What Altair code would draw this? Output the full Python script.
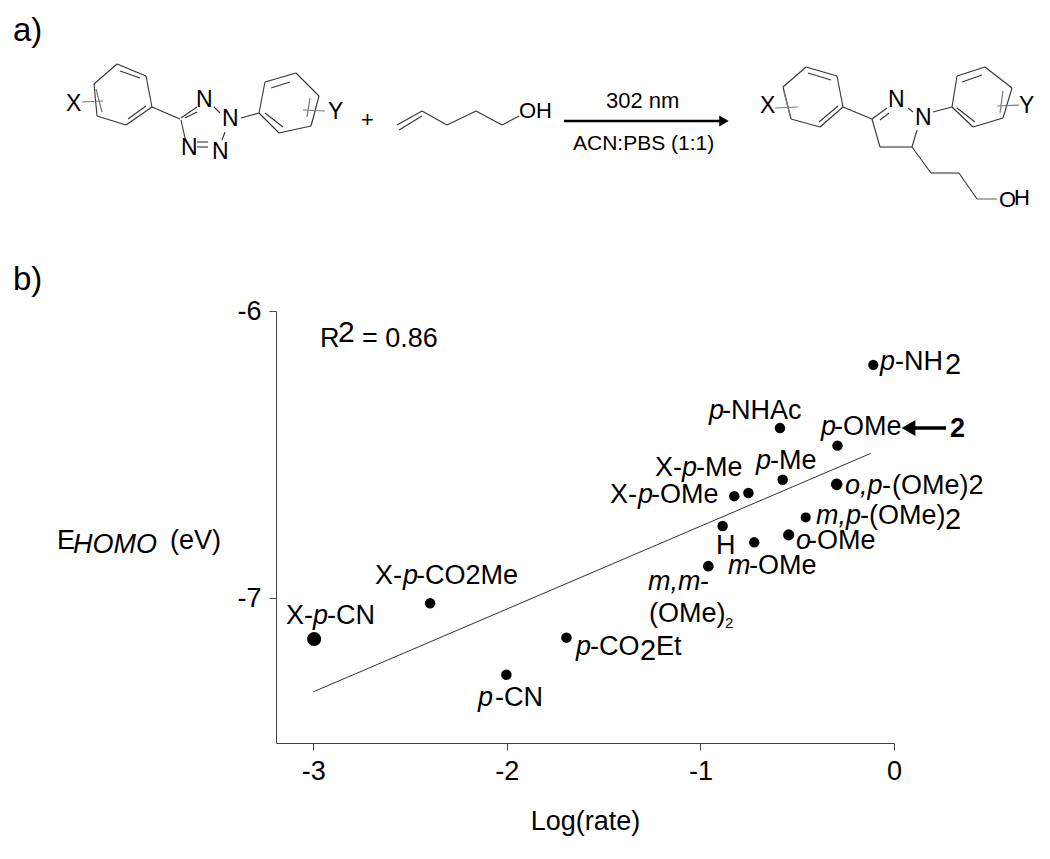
import altair as alt
import pandas as pd

# ---- scatter data ----
log_rate = [-0.107, -0.589, -0.292, -0.575, -0.752, -0.825, -0.296, -0.456, -0.544, -0.885, -0.722, -0.959, -2.396, -2.995, -2.002, -1.692]
e_homo = [-6.188, -6.408, -6.469, -6.588, -6.634, -6.645, -6.604, -6.719, -6.780, -6.749, -6.806, -6.889, -7.018, -7.143, -7.267, -7.138]
dot_size = [105, 110, 110, 110, 110, 110, 135, 100, 125, 110, 110, 115, 110, 195, 110, 110]
trend_x = [-3.0, -0.12]
trend_y = [-7.327, -6.496]

# ---- text pieces: text, left, baseline, font size, style, weight ----
n, i, b = "normal", "italic", "bold"
F = 27
S = 22
labels = [
    ("a)", 13, 41, 33, n, n), ("b)", 13, 290, 33, n, n),
    ("R", 320, 347, F, n, n), ("2", 338, 342, 30, n, n), ("= 0.86", 362, 347, F, n, n),
    ("E", 57, 549, F, n, n), ("HOMO", 73, 553, F, i, n), ("(eV)", 170, 549, F, n, n),
    ("p", 880, 370, F, i, n), ("-NH", 895, 370, F, n, n), ("2", 945, 374, 29, n, n),
    ("p", 709, 419, F, i, n), ("-NHAc", 722, 419, F, n, n),
    ("p", 821, 435, F, i, n), ("-OMe", 834, 435, F, n, n),
    ("2", 950, 437, F, n, b),
    ("X-", 655, 476, F, n, n), ("p", 682, 476, F, i, n), ("-Me", 696, 476, F, n, n),
    ("p", 756, 469, F, i, n), ("-Me", 770, 469, F, n, n),
    ("X-", 610, 503, F, n, n), ("p", 638, 503, F, i, n), ("-OMe", 651, 503, F, n, n),
    ("o,p", 845, 494, F, i, n), ("-", 882, 494, F, n, n), ("(OMe)2", 892, 494, F, n, n),
    ("m,p", 816, 524, F, i, n), ("-", 860, 524, F, n, n), ("(OMe)", 869, 524, F, n, n), ("2", 945, 529, 29, n, n),
    ("o", 796, 549, F, i, n), ("-OMe", 808, 549, F, n, n),
    ("H", 716, 554, F, n, n),
    ("m", 728, 574, F, i, n), ("-OMe", 749, 574, F, n, n),
    ("m,m", 648, 590, F, i, n), ("-", 700, 590, F, n, n),
    ("(OMe)", 649, 622, F, n, n), ("2", 725, 628, 15, n, n),
    ("X-", 375, 584, F, n, n), ("p", 403, 584, F, i, n), ("-CO2Me", 416, 584, F, n, n),
    ("X-", 286, 624, F, n, n), ("p", 313, 624, F, i, n), ("-CN", 327, 624, F, n, n),
    ("p", 576, 655, F, i, n), ("-CO", 590, 655, F, n, n), ("2", 640, 660, 29, n, n), ("Et", 656, 655, F, n, n),
    ("p", 478, 706, F, i, n), ("-CN", 495, 706, F, n, n),
    # scheme text
    ("+", 361, 127, 22, n, n),
    ("OH", 519, 118, S, n, n),
    ("302 nm", 606, 108, S, n, n),
    ("ACN:PBS (1:1)", 573, 150, 21, n, n),
    ("X", 66, 111, 23, n, n), ("Y", 328, 119, 23, n, n),
    ("N", 196, 107, 23, n, n), ("N", 222, 126, 23, n, n), ("N", 181, 155, 23, n, n), ("N", 212, 159, 23, n, n),
    ("X", 760, 113, 23, n, n), ("Y", 1019, 113, 23, n, n),
    ("N", 888, 107, 23, n, n), ("N", 915, 125, 23, n, n),
    ("O", 999, 207, S, n, n), ("H", 1014, 205, S, n, n),
]

# ---- scheme bonds: x1, y1, x2, y2 ----
bonds_dark = [
    # tetrazole, left ring
    (117, 64, 146, 76), (146, 76, 152, 107), (152, 107, 126, 125), (126, 125, 97, 116), (97, 116, 94, 84), (94, 84, 117, 64),
    (120, 71, 140, 78), (128, 119, 146, 106), (152, 107, 180, 119),
    (181, 118, 197, 107), (185, 118, 197, 112), (214, 107, 220, 113), (225, 132, 222, 140),
    (185, 138, 181, 120), (197, 142, 208, 142), (197, 147, 208, 147),
    # right ring
    (241, 118, 259, 113), (259, 113, 265, 82), (265, 82, 296, 73), (296, 73, 319, 96), (319, 96, 311, 126), (311, 126, 279, 133), (279, 133, 259, 113),
    (271, 88, 290, 82), (265, 113, 283, 127),
    # pentenol
    (397, 125, 422, 111), (399, 130, 422, 116), (422, 111, 447, 125), (447, 125, 476, 111), (476, 111, 502, 125), (502, 125, 519, 116),
    # product left ring
    (806, 67, 837, 76), (837, 76, 843, 107), (843, 107, 820, 127), (820, 127, 791, 119), (791, 119, 783, 87), (783, 87, 806, 67),
    (808, 73, 831, 80), (819, 122, 838, 106), (843, 107, 872, 119),
    # pyrazoline
    (872, 119, 887, 108), (880, 120, 889, 113), (908, 108, 913, 112), (917, 130, 912, 147), (912, 147, 880, 147), (880, 147, 872, 119),
    (933, 112, 952, 107),
    # product right ring
    (952, 107, 957, 76), (957, 76, 985, 67), (985, 67, 1012, 88), (1012, 88, 1003, 118), (1003, 118, 973, 127), (973, 127, 952, 107),
    (962, 82, 982, 75), (957, 108, 975, 122),
    # chain
    (912, 147, 931, 173), (931, 173, 959, 173), (959, 173, 977, 199),
]
bonds_gray = [
    (96, 89, 102, 112), (82, 102, 103, 101), (310, 98, 307, 117), (303, 110, 325, 111),
    (784, 92, 790, 115), (775, 108, 798, 107), (1003, 91, 1000, 113), (997, 106, 1019, 105), (977, 199, 997, 199),
]
shaft_top = [(564, 121, 722, 121)]
shaft_two = [(912, 428, 946, 428)]
head_top = [(724, 121)]
head_two = [(908.5, 428)]

x_ticks = [-3, -2, -1, 0]
y_ticks = [-7, -6]

W, H = 618, 432
PX = alt.Scale(domain=[276, 894])
PY = alt.Scale(domain=[743, 311])

df = pd.DataFrame({"x": log_rate, "y": e_homo, "s": dot_size})
trend = pd.DataFrame({"x": trend_x, "y": trend_y})
lab = pd.DataFrame(labels, columns=["t", "x", "y", "fs", "st", "wt"])

sx = alt.Scale(domain=[-3.192, 0])
sy = alt.Scale(domain=[-7.505, -6])
AX = dict(domainColor="#444", tickColor="#444", tickSize=7, grid=False, labelFont="Liberation Sans",
          labelFontSize=27, labelColor="#000", labelFlush=False,
          labelExpr="datum.value < 0 ? '-' + abs(datum.value) : '' + datum.value")

line = alt.Chart(trend).mark_line(color="#333", strokeWidth=1).encode(
    x=alt.X("x:Q", scale=sx, axis=alt.Axis(values=x_ticks, title="Log(rate)", titleFont="Liberation Sans",
                                           titleFontSize=27, titleFontWeight="normal", titleColor="#000",
                                           titlePadding=24, labelPadding=8, **AX)),
    y=alt.Y("y:Q", scale=sy, axis=alt.Axis(values=y_ticks, title=None, labelPadding=8, **AX)),
)
dots = alt.Chart(df).mark_circle(color="#000", opacity=1).encode(
    x=alt.X("x:Q", scale=sx), y=alt.Y("y:Q", scale=sy), size=alt.Size("s:Q", scale=None, legend=None)
)
plot = alt.layer(line, dots)


def rules(rows, color, width):
    d = pd.DataFrame(rows, columns=["x", "y", "x2", "y2"])
    return alt.Chart(d).mark_rule(color=color, strokeWidth=width).encode(
        x=alt.X("x:Q", scale=PX, axis=None), y=alt.Y("y:Q", scale=PY, axis=None),
        x2="x2:Q", y2="y2:Q",
    )


def head(rows, shape, size):
    d = pd.DataFrame(rows, columns=["x", "y"])
    return alt.Chart(d).mark_point(shape=shape, size=size, filled=True, color="#000", opacity=1).encode(
        x=alt.X("x:Q", scale=PX, axis=None), y=alt.Y("y:Q", scale=PY, axis=None),
    )


text_layers = []
for (fs, st, wt), g in lab.groupby(["fs", "st", "wt"]):
    text_layers.append(
        alt.Chart(g).mark_text(align="left", baseline="alphabetic", font="Liberation Sans", fontSize=int(fs),
                               fontStyle=st, fontWeight=wt, color="#000").encode(
            x=alt.X("x:Q", scale=PX, axis=None), y=alt.Y("y:Q", scale=PY, axis=None), text="t:N")
    )

overlay = alt.layer(rules(bonds_dark, "#333", 1.1), rules(bonds_gray, "#777", 1.2),
                    rules(shaft_top, "#000", 2.4), rules(shaft_two, "#000", 3.3),
                    head(head_top, "triangle-right", 120), head(head_two, "triangle-left", 250),
                    *text_layers).resolve_scale(x="shared", y="shared")

chart = alt.layer(plot, overlay).resolve_scale(x="independent", y="independent").properties(
    width=W, height=H,
    autosize=alt.AutoSizeParams(type="none"),
    padding={"left": 268, "top": 303, "right": 148, "bottom": 108},
).configure_view(stroke=None)

chart.save("out.html", embed_options={"renderer": "svg", "actions": False})
